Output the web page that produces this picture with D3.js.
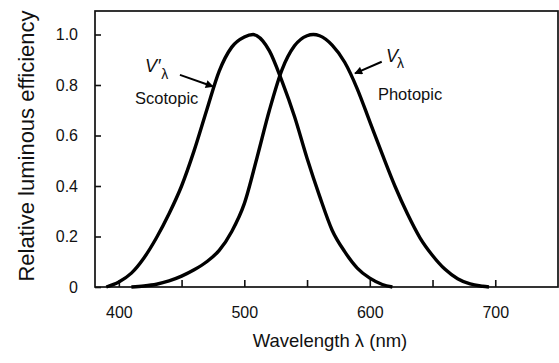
<!DOCTYPE html>
<html>
<head>
<meta charset="utf-8">
<script src="https://cdn.jsdelivr.net/npm/d3@7"></script>
<style>
  body { margin: 0; background: #fff; }
  #chart text { font-family: "Liberation Sans", Arial, Helvetica, sans-serif; fill: #111; }
</style>
</head>
<body>
<div id="chart"></div>
<script>
// Wavelengths (nm) and relative efficiency
const scotopicWl  = [390, 400, 410, 420, 430, 440, 450, 460, 470, 480, 490, 500, 507, 510, 520, 530, 540, 550, 560, 570, 580, 590, 600, 610, 618];
const scotopicVal = [0, 0.02, 0.055, 0.115, 0.195, 0.29, 0.40, 0.54, 0.70, 0.855, 0.95, 0.99, 1.0, 0.995, 0.935, 0.815, 0.675, 0.51, 0.36, 0.225, 0.14, 0.075, 0.035, 0.01, 0];

const photopicWl  = [410, 420, 430, 440, 450, 460, 470, 480, 490, 500, 510, 520, 530, 540, 550, 555, 560, 570, 580, 590, 600, 610, 620, 630, 640, 650, 660, 670, 680, 690, 695];
const photopicVal = [0, 0.004, 0.011, 0.024, 0.043, 0.068, 0.10, 0.145, 0.22, 0.33, 0.51, 0.70, 0.86, 0.955, 0.995, 1.0, 0.995, 0.958, 0.89, 0.785, 0.655, 0.525, 0.40, 0.29, 0.195, 0.125, 0.07, 0.033, 0.012, 0.003, 0];

const xTicks = [400, 450, 500, 550, 600, 650, 700];
const yTicks = [0, 0.2, 0.4, 0.6, 0.8, 1.0];

function createChart() {
    const W = 559, H = 363;
    const plot = { left: 95, right: 558, top: 11, bottom: 287 };

    const svg = d3.select("#chart").append("svg")
        .attr("width", W)
        .attr("height", H);

    const x = d3.scaleLinear().domain([381, 750]).range([plot.left, plot.right]);
    const y = d3.scaleLinear().domain([0, 1]).range([plot.bottom, 34.5]);

    // frame
    svg.append("rect")
        .attr("x", plot.left)
        .attr("y", plot.top)
        .attr("width", plot.right - plot.left)
        .attr("height", plot.bottom - plot.top)
        .style("fill", "none")
        .style("stroke", "#111")
        .style("stroke-width", 1.7);

    // axes (ticks point inward)
    const xAxis = svg.append("g")
        .attr("transform", `translate(0,${plot.bottom})`)
        .call(d3.axisBottom(x).tickValues(xTicks).tickSize(-7).tickSizeOuter(0).tickPadding(20)
            .tickFormat(d => d % 100 === 0 ? d : ""));
    const yAxis = svg.append("g")
        .attr("transform", `translate(${plot.left},0)`)
        .call(d3.axisLeft(y).tickValues(yTicks).tickSize(-6).tickSizeOuter(0).tickPadding(17)
            .tickFormat(d => d === 0 ? "0" : d3.format(".1f")(d)));

    [xAxis, yAxis].forEach(a => {
        a.select(".domain").remove();
        a.selectAll(".tick line").style("stroke", "#111").style("stroke-width", 1.6);
        a.selectAll(".tick text").style("font-size", "16px");
    });

    // axis titles
    svg.append("text")
        .attr("x", 330)
        .attr("y", 347)
        .style("text-anchor", "middle")
        .style("font-size", "18.5px")
        .text("Wavelength λ (nm)");

    svg.append("text")
        .attr("transform", `translate(33.5,146) rotate(-90)`)
        .style("text-anchor", "middle")
        .style("font-size", "22px")
        .text("Relative luminous efficiency");

    // curves
    const line = d3.line()
        .x(d => x(d[0]))
        .y(d => y(d[1]))
        .curve(d3.curveMonotoneX);

    const curves = [
        d3.zip(scotopicWl, scotopicVal),
        d3.zip(photopicWl, photopicVal)
    ];
    curves.forEach(c => {
        svg.append("path")
            .datum(c)
            .attr("d", line)
            .style("fill", "none")
            .style("stroke", "#000")
            .style("stroke-width", 3.4)
            .style("stroke-linejoin", "round");
    });

    // arrow heads
    svg.append("defs").append("marker")
        .attr("id", "head")
        .attr("viewBox", "0 0 10 10")
        .attr("refX", 9)
        .attr("refY", 5)
        .attr("markerUnits", "userSpaceOnUse")
        .attr("markerWidth", 11)
        .attr("markerHeight", 8)
        .attr("orient", "auto")
        .append("path")
        .attr("d", "M0,0 L10,5 L0,10 Z")
        .style("fill", "#000");

    const arrows = [
        { from: [448.7, 0.84], to: [475, 0.794] },
        { from: [609.5, 0.892], to: [588.2, 0.846] }
    ];
    arrows.forEach(a => {
        svg.append("line")
            .attr("x1", x(a.from[0])).attr("y1", y(a.from[1]))
            .attr("x2", x(a.to[0])).attr("y2", y(a.to[1]))
            .style("stroke", "#000")
            .style("stroke-width", 2)
            .attr("marker-end", "url(#head)");
    });

    // V'λ label
    const v1 = svg.append("text")
        .attr("x", x(420.8))
        .attr("y", y(0.852))
        .style("font-size", "18px");
    v1.append("tspan").style("font-style", "italic").text("V");
    v1.append("tspan").attr("dx", 1).text("′");
    v1.append("tspan").attr("dy", 7).style("font-size", "14px").text("λ");

    // Vλ label
    const v2 = svg.append("text")
        .attr("x", x(612.9))
        .attr("y", y(0.891))
        .style("font-size", "18px");
    v2.append("tspan").style("font-style", "italic").text("V");
    v2.append("tspan").attr("dy", 6).attr("dx", -1).style("font-size", "14px").text("λ");

    svg.append("text")
        .attr("x", x(412.9))
        .attr("y", y(0.725))
        .style("font-size", "16.5px")
        .text("Scotopic");

    svg.append("text")
        .attr("x", x(606.5))
        .attr("y", y(0.739))
        .style("font-size", "16.5px")
        .text("Photopic");
}

createChart();
</script>
</body>
</html>
